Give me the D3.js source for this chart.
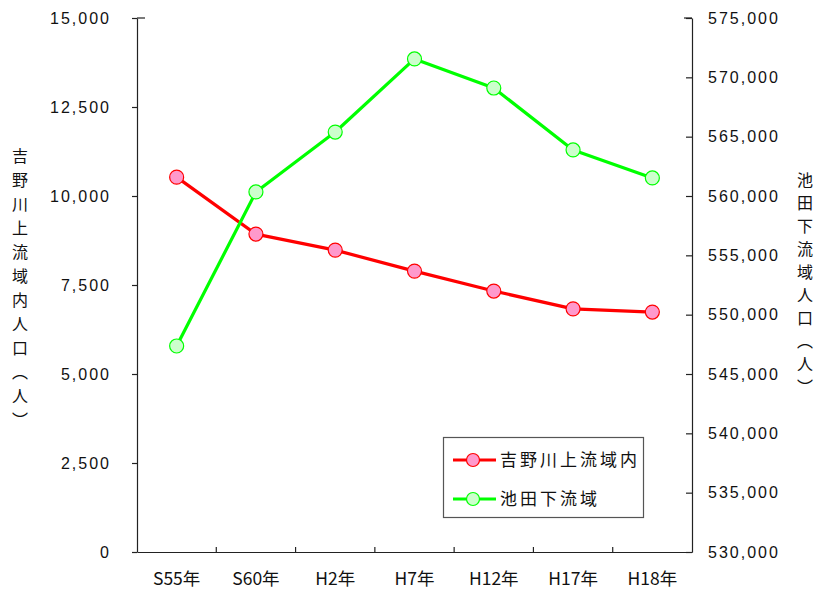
<!DOCTYPE html>
<html>
<head>
<meta charset="utf-8">
<script src="https://cdn.jsdelivr.net/npm/d3@7"></script>
<style>
  html, body { margin: 0; padding: 0; background: #fff; }
  svg { display: block; }
</style>
</head>
<body>
<svg id="chart" width="817" height="592"></svg>
<script>
// Survey years
const years = ["S55年", "S60年", "H2年", "H7年", "H12年", "H17年", "H18年"];
// Population upstream of the Yoshino river (left axis)
const upstream = [10530, 8930, 8480, 7890, 7330, 6830, 6740];
// Population downstream of Ikeda (right axis)
const downstream = [547360, 560340, 565390, 571550, 569100, 563880, 561520];
// Axis tick values
const leftTicks = [0, 2500, 5000, 7500, 10000, 12500, 15000];
const rightTicks = [530000, 535000, 540000, 545000, 550000, 555000, 560000, 565000, 570000, 575000];
// Series and axis titles
const seriesNames = ["吉野川上流域内", "池田下流域"];
const leftTitle = "吉野川上流域内人口（人）";
const rightTitle = "池田下流域人口（人）";

const svg = d3.select("#chart");
const plot = { left: 137, right: 692, top: 18, bottom: 552 };
const axisColor = "#222";
const numFont = "'Liberation Sans', Arial, sans-serif";
const cjkFont = "'Noto Sans CJK JP', sans-serif";

const x = d3.scaleBand().domain(years).range([plot.left, plot.right]).padding(0);
const yL = d3.scaleLinear().domain([0, 15000]).range([plot.bottom, plot.top]);
const yR = d3.scaleLinear().domain([530000, 575000]).range([plot.bottom, plot.top]);
const fmt = d3.format(",");

// Left axis: ticks point outward
const gL = svg.append("g").attr("transform", `translate(${plot.left},0)`)
  .call(d3.axisLeft(yL).tickValues(leftTicks).tickSize(5).tickSizeOuter(0).tickFormat(fmt).tickPadding(23));
// Right axis: ticks point into the plot
const gR = svg.append("g").attr("transform", `translate(${plot.right},0)`)
  .call(d3.axisRight(yR).tickValues(rightTicks).tickSize(-6).tickSizeOuter(0).tickFormat(fmt).tickPadding(16));
// Bottom axis: ticks on category boundaries pointing up
const gB = svg.append("g").attr("transform", `translate(0,${plot.bottom})`)
  .call(d3.axisBottom(x).tickSize(0).tickSizeOuter(0).tickPadding(28));

[gL, gR, gB].forEach(g => {
  g.select(".domain").attr("stroke", axisColor).attr("stroke-width", 1.2);
  g.selectAll(".tick line").attr("stroke", axisColor).attr("stroke-width", 1.2);
  g.selectAll("text").attr("fill", "#111");
});
gL.selectAll("text").attr("font-family", numFont).attr("font-size", 16).attr("letter-spacing", "2px")
  .attr("dx", "2px");
gR.selectAll("text").attr("font-family", numFont).attr("font-size", 16).attr("letter-spacing", "2px");
gB.selectAll("text")
  .attr("font-family", "'Liberation Sans Narrow', 'Noto Sans CJK JP', sans-serif")
  .attr("font-size", 17.5).attr("dy", "0.3em");

// Boundary ticks on the category axis
gB.selectAll("line.bnd")
  .data(years.slice(1))
  .join("line")
  .attr("class", "bnd")
  .attr("x1", d => x(d)).attr("x2", d => x(d))
  .attr("y1", 0).attr("y2", -5)
  .attr("stroke", axisColor).attr("stroke-width", 1.2);

// Short caps at the top of both value axes
svg.append("line").attr("x1", plot.left).attr("x2", plot.left + 8)
  .attr("y1", yL(15000)).attr("y2", yL(15000)).attr("stroke", axisColor).attr("stroke-width", 1.2);
svg.append("line").attr("x1", plot.right - 8).attr("x2", plot.right)
  .attr("y1", yR(575000)).attr("y2", yR(575000)).attr("stroke", axisColor).attr("stroke-width", 1.2);

// Vertical axis titles
svg.append("text")
  .attr("x", 20).attr("y", 148)
  .attr("writing-mode", "vertical-rl")
  .attr("font-family", cjkFont).attr("font-size", 16).attr("letter-spacing", "8px")
  .attr("fill", "#111")
  .text(leftTitle);
svg.append("text")
  .attr("x", 805).attr("y", 172)
  .attr("writing-mode", "vertical-rl")
  .attr("font-family", cjkFont).attr("font-size", 16).attr("letter-spacing", "7px")
  .attr("fill", "#111")
  .text(rightTitle);

const cx = d => x(d) + x.bandwidth() / 2;

const series = [
  { name: seriesNames[0], values: upstream, y: yL, stroke: "#ff0000", fill: "#ff99cc" },
  { name: seriesNames[1], values: downstream, y: yR, stroke: "#00ff00", fill: "#ccffcc" }
];

series.forEach(s => {
  const pts = years.map((yr, i) => [cx(yr), s.y(s.values[i])]);
  svg.append("path")
    .attr("d", d3.line()(pts))
    .attr("fill", "none").attr("stroke", s.stroke).attr("stroke-width", 3.2)
    .attr("stroke-linejoin", "round");
  svg.append("g").selectAll("circle")
    .data(pts).join("circle")
    .attr("cx", d => d[0]).attr("cy", d => d[1]).attr("r", 7)
    .attr("fill", s.fill).attr("stroke", s.stroke).attr("stroke-width", 1.2);
});

// Legend
const lg = svg.append("g");
lg.append("rect").attr("x", 443.5).attr("y", 437.5).attr("width", 200).attr("height", 80)
  .attr("fill", "#fff").attr("stroke", "#555").attr("stroke-width", 1.2);
series.forEach((s, i) => {
  const ly = 460 + i * 39;
  lg.append("line").attr("x1", 453).attr("x2", 496).attr("y1", ly).attr("y2", ly)
    .attr("stroke", s.stroke).attr("stroke-width", 3.2);
  lg.append("circle").attr("cx", 473).attr("cy", ly).attr("r", 6.5)
    .attr("fill", s.fill).attr("stroke", s.stroke).attr("stroke-width", 1.2);
  lg.append("text").attr("x", 500).attr("y", ly).attr("dy", "0.36em")
    .attr("font-family", cjkFont).attr("font-size", 17).attr("letter-spacing", "3px")
    .attr("fill", "#111")
    .text(s.name);
});
</script>
</body>
</html>
